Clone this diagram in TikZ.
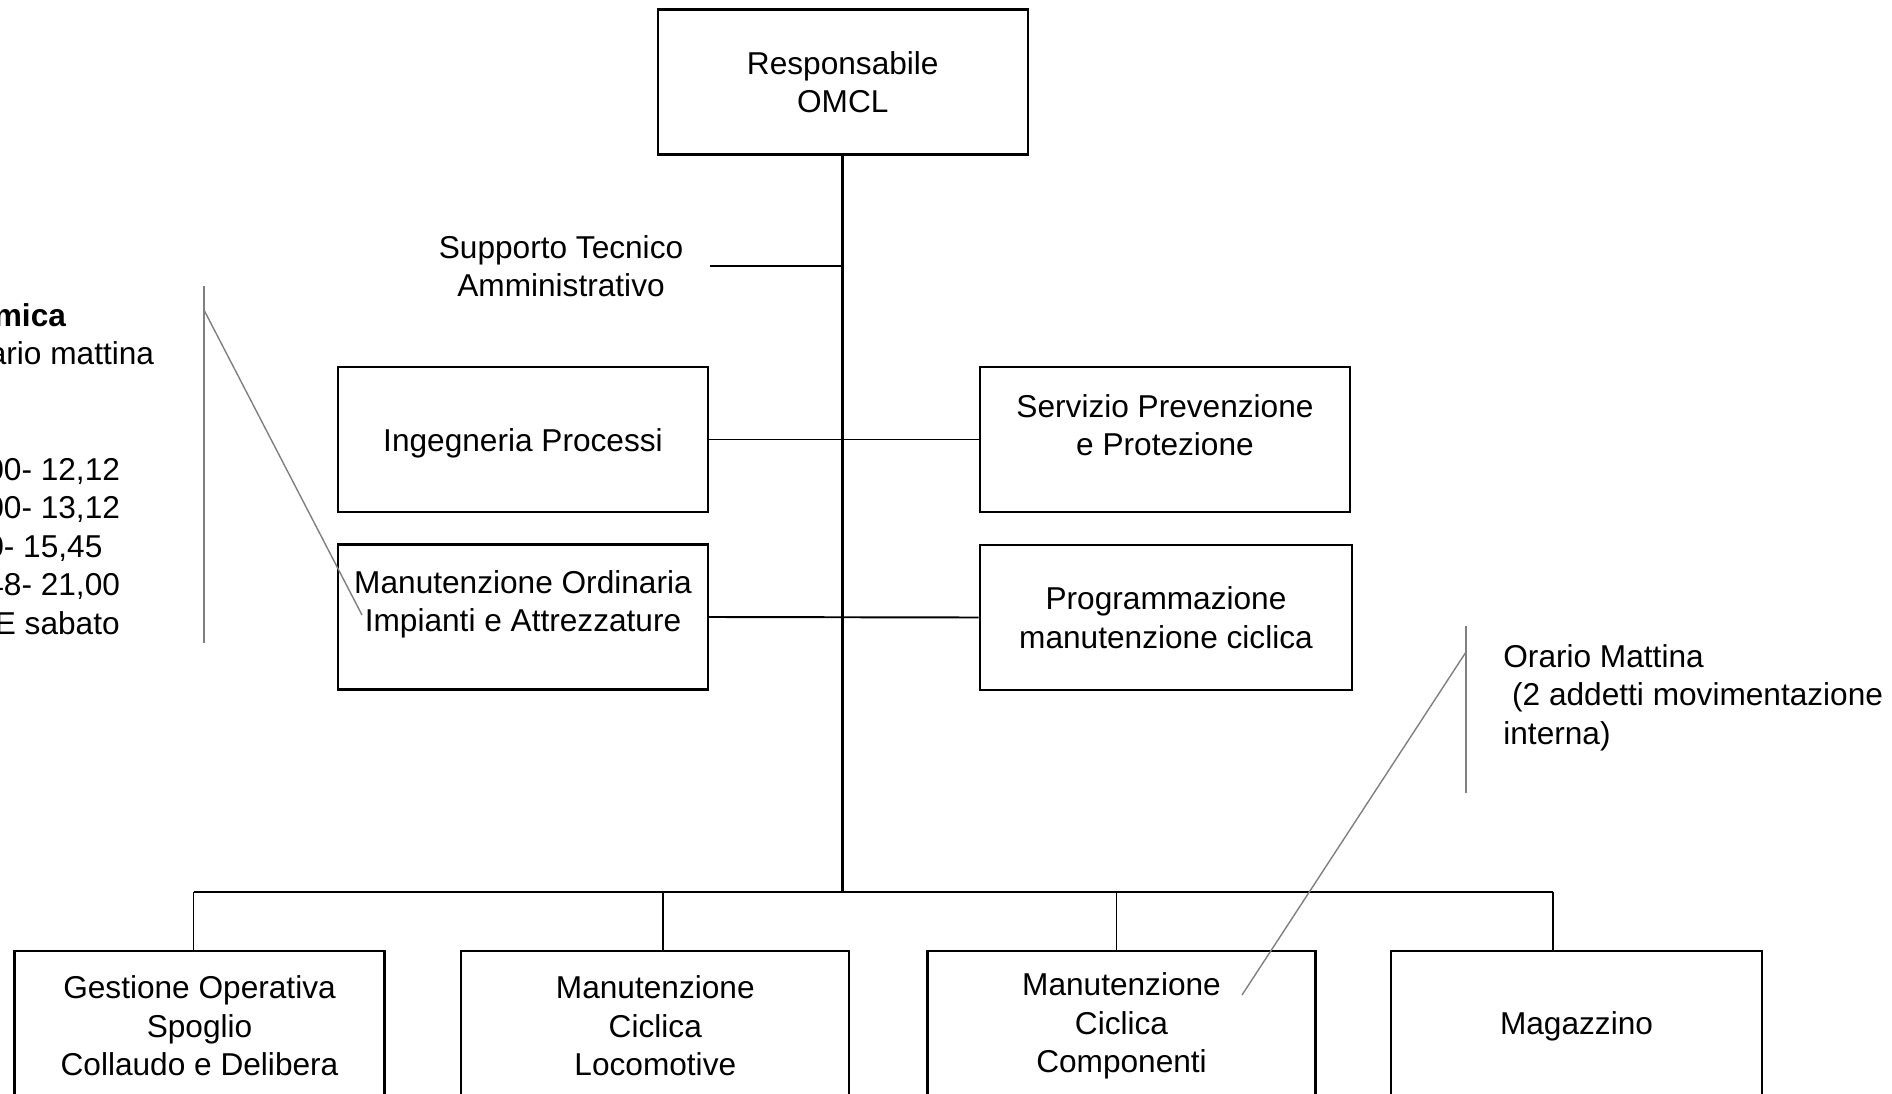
\documentclass[tikz,border=0pt]{standalone}
\usepackage{fontspec}
\setmainfont{Liberation Sans}
\usepackage{tikz}
\definecolor{notegray}{RGB}{128,128,128}

\begin{document}
\begin{tikzpicture}[x=0.02cm,y=-0.02cm,
	font=\fontsize{18}{21.9}\selectfont,
	box/.style={draw=black,line width=1.2pt,minimum width=7.4cm,minimum height=2.9cm,align=center,inner sep=0pt},
	lowbox/.style={box,minimum height=3cm},
	link/.style={draw=black,line width=1.1pt},
	note/.style={draw=notegray,line width=0.8pt}]

	\useasboundingbox (0,0) rectangle (1892,1094);
	\clip (0,0) rectangle (1892,1094);

	% upper part
	\node[box] (resp) at (842.8,82)     {Responsabile\\OMCL};
	\node[align=center] (supp) at (561,266)     {Supporto Tecnico\\Amministrativo};
	\node[box,text height=0.6cm] (ing) at (523,439.5)     {Ingegneria Processi};
	\node[box,text depth=0.58cm] (spp) at (1165,439.5)     {Servizio Prevenzione\\e Protezione};
	\node[box,text depth=0.64cm] (mor) at (523,617)     {Manutenzione Ordinaria\\Impianti e Attrezzature};
	\node[box,minimum width=7.45cm] (prog) at (1166,617.5)     {Programmazione\\manutenzione ciclica};

	% lower part
	\node[lowbox] (gest) at (199.5,1026)     {Gestione Operativa\\Spoglio\\Collaudo e Delibera};
	\node[lowbox,minimum width=7.76cm] (loco) at (655.3,1026)     {Manutenzione\\Ciclica\\Locomotive};
	\node[lowbox,minimum width=7.76cm] (comp) at (1121.5,1026)     {Manutenzione\\Ciclica\\Componenti};
	\node[lowbox,minimum width=7.42cm] (mag) at (1576.5,1026)     {Magazzino};

	% notes
	\node[anchor=north west,align=left,inner sep=0pt] (turni) at (-14,303)
		{\hspace*{0.15cm}\textbf{mica}\\\hspace*{0.05cm}ario mattina\\ \\ \\00- 12,12\\00- 13,12\\0- 15,45\\48- 21,00\\\hspace*{0.17cm}E sabato};
	\node[anchor=north west,align=left,inner sep=0pt] (movi) at (1503,644)
		{Orario Mattina\\\ (2 addetti movimentazione\\interna)};

	\coordinate (suppend) at (709.5,266);
	\coordinate (bus) at (842.8,891.7);
	\coordinate (busl) at (193.5,891.7);
	\coordinate (busr) at (1553,891.7);
	\coordinate (d2) at (663,891.7);
	\coordinate (d3) at (1116.5,891.7);

	\path[link,line width=1.7pt] (resp.south) edge (bus);
	\path[link] (suppend) edge (suppend -| resp.south);
	\path[link] (ing.east) edge (spp.west);
	\path[link] (mor.east) edge (prog.west);
	\path[link] (busl) edge (busr);
	\path[link,line width=0.9pt] (busl) edge (busl |- gest.north);
	\path[link,line width=0.9pt] (d2) edge (d2 |- loco.north);
	\path[link,line width=0.9pt] (d3) edge (d3 |- comp.north);
	\path[link,line width=0.9pt] (busr) edge (busr |- mag.north);

	\coordinate (lbartop) at (204,286);
	\coordinate (lbarbot) at (204,643);
	\coordinate (lbarpt) at (204,310);
	\coordinate (lend) at (362,615);
	\coordinate (rbartop) at (1466,626);
	\coordinate (rbarbot) at (1466,793);
	\coordinate (rbarpt) at (1466,652);
	\coordinate (rend) at (1242,995);

	\path[note] (lbartop) edge (lbarbot);
	\path[note] (lbarpt) edge (lend);
	\path[note] (rbartop) edge (rbarbot);
	\path[note] (rbarpt) edge (rend);

\end{tikzpicture}
\end{document}
